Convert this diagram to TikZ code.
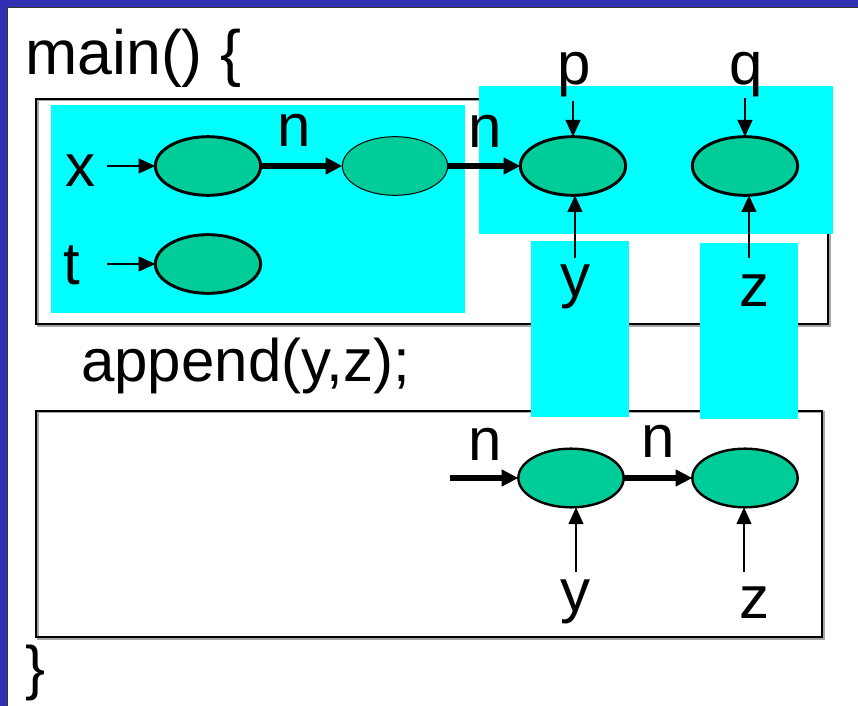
\documentclass[tikz,border=0pt]{standalone}
\usepackage{fontspec}
\setmainfont{Liberation Sans}
\usetikzlibrary{arrows.meta,shapes.geometric}
\definecolor{bord}{HTML}{3030B0}
\definecolor{cy}{HTML}{00FFFF}
\definecolor{nodegreen}{HTML}{00CC99}
\begin{document}
\begin{tikzpicture}[x=0.75pt,y=-0.75pt,
  lbl/.style={font=\fontsize{45}{50}\selectfont, inner sep=0pt, anchor=base},
  cell/.style={ellipse, draw=black, line width=2.2pt, fill=nodegreen,
    minimum width=79pt, minimum height=44pt, inner sep=0pt, outer sep=0pt},
  ptr/.style={line width=1.6pt, -{Triangle[length=12.5pt,width=11pt]}},
  fld/.style={line width=3.8pt, -{Triangle[length=12.5pt,width=12pt]}},
  frame/.style={draw=black, line width=1.5pt},
  shade/.style={draw=black!35, line width=1.5pt},
  hl/.style={fill=cy, draw=none}]
% background and border
\fill[white] (0,0) rectangle (858,706);
\useasboundingbox (0,0) rectangle (858,706);
\fill[bord] (0,0) rectangle (858,7);
\fill[bord] (0,0) rectangle (7,706);
\draw[black!80, line width=0.75pt] (7.5,706) -- (7.5,7.5) -- (858,7.5);
% frames
\draw[shade] (37.5,100.5) rectangle (829.5,326);
\draw[frame] (36,99) rectangle (828,324.5);
\draw[shade] (37.5,412.5) rectangle (823.5,638.5);
\draw[frame] (36,411) rectangle (822,637);
% highlights
\fill[hl] (51,105) rectangle (465,313);
\fill[hl] (479,86) rectangle (833,234);
\fill[hl] (531,241) rectangle (629,417);
\fill[hl] (700,243) rectangle (798,419);
% cells
\node[cell] (a1) at (208,166) {};
\node[cell, line width=0.75pt] (a2) at (395,166) {};
\node[cell] (t1) at (208,264) {};
\node[cell] (py) at (573,166) {};
\node[cell] (qz) at (745,166) {};
\node[cell, line width=1.8pt] (ly) at (571,478) {};
\node[cell, line width=1.8pt] (lz) at (745,478) {};
% labels
\node[lbl, anchor=base west, font=\fontsize{47}{52}\selectfont] (mainl) at (25,75) {main() \{};
\node[lbl] (xl) at (80,187) {x};
\node[lbl] (tl) at (72,285) {t};
\node[lbl] (n1) at (294,147) {n};
\node[lbl] (n2) at (485,148) {n};
\node[lbl] (pl) at (574,85) {p};
\node[lbl] (ql) at (746,85) {q};
\node[lbl] (yl) at (575,297) {y};
\node[lbl] (zl) at (754,307) {z};
\node[lbl, anchor=base west] (app) at (81,382) {append(y,z);};
\node[lbl] (n3) at (485,460) {n};
\node[lbl] (n4) at (658,457) {n};
\node[lbl] (y2) at (575,611) {y};
\node[lbl] (z2) at (754,618) {z};
\node[lbl] (cb) at (36,688) {\}};
% free ends of pointers
\coordinate (xs) at (107,166);
\coordinate (ts) at (107,264);
\coordinate (ps) at (573,101);
\coordinate (qs) at (745,98);
\coordinate (ys) at (575,258);
\coordinate (zs) at (749,258);
\coordinate (ls) at (450,478);
\coordinate (y2s) at (576,572);
\coordinate (z2s) at (744,572);
% connectors
\draw[ptr] (xs) -- (a1.west);
\draw[ptr] (ts) -- (t1.west);
\draw[fld] (a1.east) -- (a2.west);
\draw[fld] (a2.east) -- (py.west);
\draw[ptr] (ps) -- (py.north);
\draw[ptr] (qs) -- (qz.north);
\draw[ptr] (ys) -- (ys |- py.south);
\draw[ptr] (zs) -- (zs |- qz.south);
\draw[fld] (ls) -- (ly.west);
\draw[fld] (ly.east) -- (lz.west);
\draw[ptr] (y2s) -- (y2s |- ly.south);
\draw[ptr] (z2s) -- (z2s |- lz.south);
\end{tikzpicture}
\end{document}
